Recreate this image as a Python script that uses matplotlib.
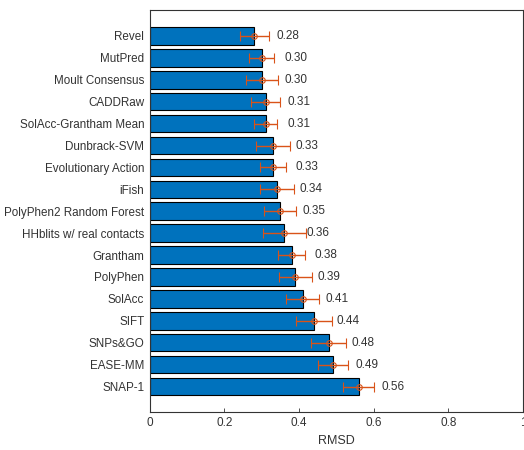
import matplotlib.pyplot as plt
import numpy as np

plt.rcParams['font.family'] = ['Liberation Sans', 'DejaVu Sans']

# Methods ranked by RMSD (top to bottom)
methods = ['Revel', 'MutPred', 'Moult Consensus', 'CADDRaw', 'SolAcc-Grantham Mean',
           'Dunbrack-SVM', 'Evolutionary Action', 'iFish', 'PolyPhen2 Random Forest',
           'HHblits w/ real contacts', 'Grantham', 'PolyPhen', 'SolAcc', 'SIFT',
           'SNPs&GO', 'EASE-MM', 'SNAP-1']
rmsd = [0.28, 0.30, 0.30, 0.31, 0.31, 0.33, 0.33, 0.34, 0.35, 0.36,
        0.38, 0.39, 0.41, 0.44, 0.48, 0.49, 0.56]
err = [0.039, 0.033, 0.043, 0.040, 0.031, 0.045, 0.035, 0.046, 0.043, 0.058,
       0.037, 0.044, 0.044, 0.047, 0.047, 0.040, 0.042]

blue = '#0072BD'
orange = '#D95319'
axcol = '#333333'

fig = plt.figure(figsize=(5.24, 4.5), dpi=100)
ax = fig.add_axes([0.286, 0.085, 0.712, 0.893])

y = np.arange(len(methods))
ax.barh(y, rmsd, height=0.8, color=blue, edgecolor='black', linewidth=0.8, zorder=2)
ax.errorbar(rmsd, y, xerr=err, fmt='o', color=orange, ecolor=orange,
            markerfacecolor='none', markersize=4, markeredgewidth=0.8,
            elinewidth=1.0, capsize=3.5, capthick=1.0, zorder=3)

for yi, v in zip(y, rmsd):
    ax.text(v + 0.06, yi, f'{v:.2f}', va='center', ha='left', fontsize=8.5, color=axcol)

ax.set_xlim(0, 1)
ax.set_ylim(len(methods) - 1 + 1.15, -1.19)
ax.set_yticks(y)
ax.set_yticklabels(methods, fontsize=8.4)
ax.set_xticks([0, 0.2, 0.4, 0.6, 0.8, 1])
ax.set_xticklabels(['0', '0.2', '0.4', '0.6', '0.8', '1'])
ax.set_xlabel('RMSD', fontsize=9, color=axcol, labelpad=4)

ax.tick_params(axis='both', direction='in', length=3, width=0.6, colors=axcol,
               pad=4)
ax.tick_params(axis='x', labelsize=8.5)
for s in ax.spines.values():
    s.set_color(axcol)
    s.set_linewidth(0.8)

fig.savefig('out.png', dpi=100)
